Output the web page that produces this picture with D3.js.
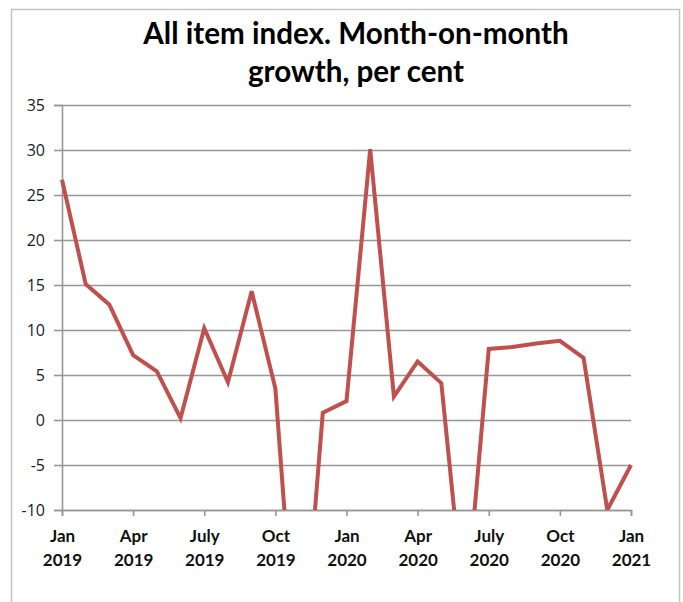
<!DOCTYPE html>
<html>
<head>
<meta charset="utf-8">
<script src="https://cdn.jsdelivr.net/npm/d3@7"></script>
<style>
  html, body { margin: 0; padding: 0; background: #fff; }
  svg { display: block; }
</style>
</head>
<body>
<svg id="chart" width="683" height="602"></svg>
<script>
// ---- data ----
const months = [
  "Jan 2019","Feb 2019","Mar 2019","Apr 2019","May 2019","Jun 2019","Jul 2019","Aug 2019","Sep 2019","Oct 2019","Nov 2019","Dec 2019",
  "Jan 2020","Feb 2020","Mar 2020","Apr 2020","May 2020","Jun 2020","Jul 2020","Aug 2020","Sep 2020","Oct 2020","Nov 2020","Dec 2020",
  "Jan 2021"
];
const growth = [
  26.7, 15.1, 12.8, 7.2, 5.4, 0.2, 10.2, 4.2, 14.3, 3.5, -32, 0.8,
  2.1, 30.1, 2.6, 6.5, 4.1, -22, 7.9, 8.1, 8.5, 8.8, 6.9, -10,
  -5
];
const tickMonths = ["Jan 2019","Apr 2019","Jul 2019","Oct 2019","Jan 2020","Apr 2020","Jul 2020","Oct 2020","Jan 2021"];
const tickLabels = [["Jan","2019"],["Apr","2019"],["July","2019"],["Oct","2019"],["Jan","2020"],["Apr","2020"],["July","2020"],["Oct","2020"],["Jan","2021"]];
const yTicks = [-10, -5, 0, 5, 10, 15, 20, 25, 30, 35];
const titleLines = ["All item index. Month-on-month", "growth, per cent"];

// ---- layout ----
const svg = d3.select("#chart");
const plot = { left: 62, right: 631, top: 105, bottom: 510 };

// outer frame
svg.append("rect")
  .attr("x", 11.5).attr("y", 9.5)
  .attr("width", 668).attr("height", 620)
  .attr("fill", "#fff").attr("stroke", "#c4c4c4").attr("stroke-width", 1.5);

const x = d3.scalePoint().domain(months).range([plot.left, plot.right]).padding(0);
const y = d3.scaleLinear().domain([-10, 35]).range([plot.bottom, plot.top]);

// gridlines
svg.append("g")
  .attr("transform", `translate(${plot.left},0)`)
  .call(d3.axisLeft(y).tickValues(yTicks).tickSize(-(plot.right - plot.left)).tickFormat(""))
  .call(g => g.select(".domain").remove())
  .call(g => g.selectAll("line").attr("stroke", "#979797").attr("stroke-width", 1.6));

// y axis
svg.append("g")
  .attr("transform", `translate(${plot.left},0)`)
  .call(d3.axisLeft(y).tickValues(yTicks).tickSize(8).tickPadding(9).tickFormat(d => String(d)))
  .call(g => g.select(".domain").attr("stroke", "#979797").attr("stroke-width", 1.6))
  .call(g => g.selectAll("line").attr("stroke", "#979797").attr("stroke-width", 1.6))
  .call(g => g.selectAll("text")
    .attr("font-family", "'Open Sans', sans-serif")
    .attr("font-size", 16)
    .attr("fill", "#1a1a2a"));

// x axis
const xAxis = svg.append("g")
  .attr("transform", `translate(0,${plot.bottom})`)
  .call(d3.axisBottom(x).tickValues(tickMonths).tickSize(6).tickFormat(""))
  .call(g => g.select(".domain").attr("stroke", "#979797").attr("stroke-width", 1.6))
  .call(g => g.selectAll("line").attr("stroke", "#979797").attr("stroke-width", 1.6));

xAxis.selectAll(".tick").each(function(d, i) {
  const t = d3.select(this).append("text")
    .attr("text-anchor", "middle")
    .attr("font-family", "Lato, 'Open Sans', sans-serif")
    .attr("font-weight", "bold")
    .attr("font-size", 17)
    .attr("fill", "#111");
  t.append("tspan").attr("x", 0).attr("y", 32).text(tickLabels[i][0]);
  t.append("tspan").attr("x", 0).attr("y", 56).text(tickLabels[i][1]);
});

// clip to plot area
svg.append("clipPath").attr("id", "plotclip")
  .append("rect")
  .attr("x", plot.left - 5).attr("y", plot.top - 10)
  .attr("width", plot.right - plot.left + 10)
  .attr("height", plot.bottom - plot.top + 10);

const line = d3.line()
  .x((d, i) => x(months[i]))
  .y(d => y(d));

svg.append("path")
  .datum(growth)
  .attr("clip-path", "url(#plotclip)")
  .attr("d", line)
  .attr("fill", "none")
  .attr("stroke", "#c0504d")
  .attr("stroke-width", 4)
  .attr("stroke-linejoin", "miter");

// title
const title = svg.append("text")
  .attr("text-anchor", "middle")
  .attr("font-family", "Lato, 'Open Sans', sans-serif")
  .attr("font-weight", "bold")
  .attr("font-size", 29.6)
  .attr("fill", "#000");
title.append("tspan").attr("x", 356).attr("y", 44).text(titleLines[0]);
title.append("tspan").attr("x", 356).attr("y", 82).text(titleLines[1]);
</script>
</body>
</html>
